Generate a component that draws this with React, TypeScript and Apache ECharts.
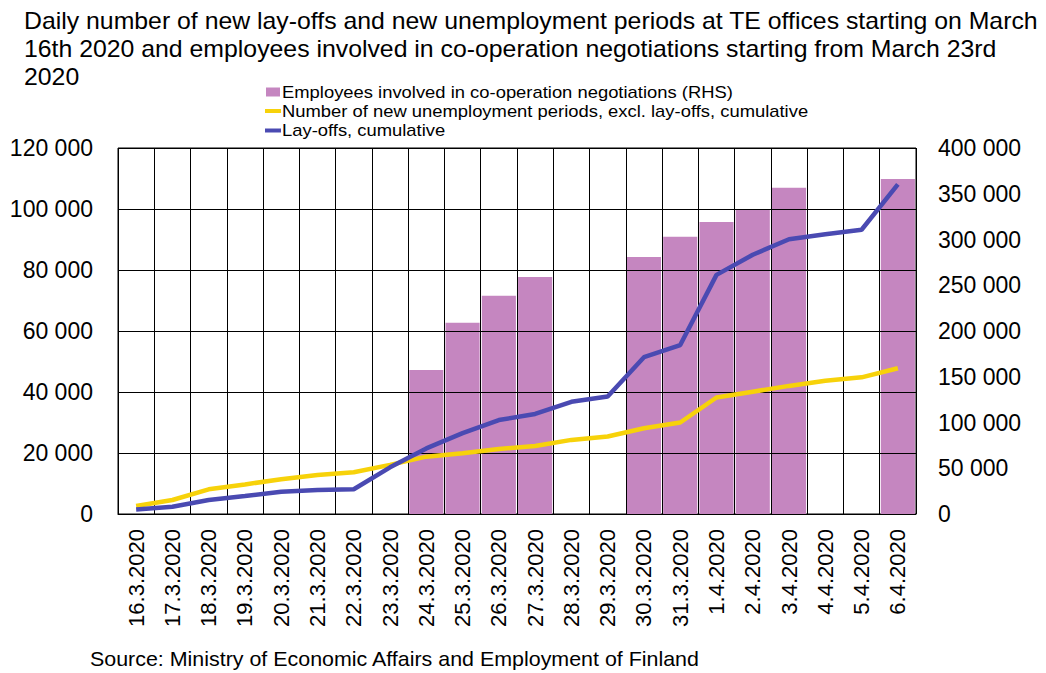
import React, { useEffect, useRef } from "react";
import * as echarts from "echarts";

const categories = [
  "16.3.2020", "17.3.2020", "18.3.2020", "19.3.2020", "20.3.2020", "21.3.2020",
  "22.3.2020", "23.3.2020", "24.3.2020", "25.3.2020", "26.3.2020", "27.3.2020",
  "28.3.2020", "29.3.2020", "30.3.2020", "31.3.2020", "1.4.2020", "2.4.2020",
  "3.4.2020", "4.4.2020", "5.4.2020", "6.4.2020",
];

const coopNegotiations = [
  null, null, null, null, null, null, null, null, 157500, 209000, 238500, 259000,
  null, null, 281000, 303000, 319000, 333000, 356500, null, null, 366000,
];

const newUnemployment = [
  2600, 4600, 8100, 9700, 11400, 12800, 13700, 16100, 18800, 19900, 21300, 22300,
  24300, 25400, 28100, 30000, 38200, 40100, 42000, 43700, 44800, 47800,
];

const layOffs = [
  1500, 2400, 4600, 5900, 7300, 7900, 8100, 15300, 21500, 26500, 30800, 32800,
  36800, 38500, 51400, 55400, 78400, 85000, 90100, 91700, 93200, 108100,
];

const seriesNames = [
  "Employees involved in co-operation negotiations (RHS)",
  "Number of new unemployment periods, excl. lay-offs, cumulative",
  "Lay-offs, cumulative",
];
const seriesColors = ["#c586c0", "#f7d20a", "#4a4ab2"];

const titleText =
  "Daily number of new lay-offs and new unemployment periods at TE offices starting on March\n16th 2020 and employees involved in co-operation negotiations starting from March 23rd\n2020";
const sourceText = "Source: Ministry of Economic Affairs and Employment of Finland";

const FONT = "'Liberation Sans', Arial, sans-serif";
const fmt = (v: number) => String(v).replace(/\B(?=(\d{3})+(?!\d))/g, " ");

export default function App() {
  const ref = useRef<HTMLDivElement>(null);
  useEffect(() => {
    if (!ref.current) return;
    const chart = echarts.init(ref.current, null, { renderer: "svg" });
    const legendRows = [92, 111, 130.5];
    const legendGraphics: any[] = [];
    seriesNames.forEach((name, i) => {
      const cy = legendRows[i];
      if (i === 0) {
        legendGraphics.push({
          type: "rect",
          shape: { x: 266, y: cy - 4.5, width: 14, height: 9 },
          style: { fill: seriesColors[i] },
        });
      } else {
        legendGraphics.push({
          type: "rect",
          shape: { x: 265, y: cy - 2, width: 16, height: 4 },
          style: { fill: seriesColors[i] },
        });
      }
      legendGraphics.push({
        type: "text",
        x: 282,
        y: cy,
        scaleX: 1.15,
        style: {
          text: name,
          fontFamily: FONT,
          fontSize: 16,
          fill: "#000",
          verticalAlign: "middle",
          align: "left",
        },
      });
    });

    chart.setOption({
      animation: false,
      backgroundColor: "#ffffff",
      textStyle: { fontFamily: FONT, color: "#000" },
      graphic: [
        {
          type: "text",
          x: 24,
          y: 7,
          scaleX: 1.034,
          style: {
            text: titleText,
            fontFamily: FONT,
            fontSize: 24,
            lineHeight: 28,
            fill: "#000",
            verticalAlign: "top",
          },
        },
        ...legendGraphics,
        {
          type: "text",
          x: 90,
          y: 659,
          scaleX: 1.02,
          style: {
            text: sourceText,
            fontFamily: FONT,
            fontSize: 21,
            fill: "#000",
            verticalAlign: "middle",
          },
        },
      ],
      grid: {
        left: 118,
        right: 130,
        top: 148,
        bottom: 159,
        show: true,
        borderColor: "#000",
        borderWidth: 1,
      },
      xAxis: {
        type: "category",
        data: categories,
        boundaryGap: true,
        z: 3,
        axisLine: { lineStyle: { color: "#000", width: 1 } },
        axisTick: { show: false },
        splitLine: { show: true, lineStyle: { color: "#000", width: 1 } },
        axisLabel: { rotate: 90, fontSize: 22, color: "#000", margin: 15, fontFamily: FONT, interval: 0 },
      },
      yAxis: [
        {
          type: "value",
          min: 0,
          max: 120000,
          interval: 20000,
          z: 3,
          axisLine: { show: false },
          axisTick: { show: false },
          splitLine: { show: true, lineStyle: { color: "#000", width: 1 } },
          axisLabel: { fontSize: 23, color: "#000", margin: 25, fontFamily: FONT, formatter: fmt },
        },
        {
          type: "value",
          min: 0,
          max: 400000,
          interval: 50000,
          axisLine: { show: false },
          axisTick: { show: false },
          splitLine: { show: false },
          axisLabel: { fontSize: 23, color: "#000", margin: 22, fontFamily: FONT, formatter: fmt },
        },
      ],
      series: [
        {
          name: seriesNames[0],
          type: "bar",
          yAxisIndex: 1,
          data: coopNegotiations,
          barCategoryGap: "6%",
          itemStyle: { color: seriesColors[0] },
          z: 2,
        },
        {
          name: seriesNames[1],
          type: "line",
          data: newUnemployment,
          symbol: "none",
          lineStyle: { color: seriesColors[1], width: 4.5 },
          itemStyle: { color: seriesColors[1] },
          z: 5,
        },
        {
          name: seriesNames[2],
          type: "line",
          data: layOffs,
          symbol: "none",
          lineStyle: { color: seriesColors[2], width: 4.5 },
          itemStyle: { color: seriesColors[2] },
          z: 6,
        },
      ],
    });
    return () => chart.dispose();
  }, []);
  return (
    <div
      ref={ref}
      style={{ position: "fixed", left: 0, top: 0, width: 1046, height: 673 }}
    />
  );
}
